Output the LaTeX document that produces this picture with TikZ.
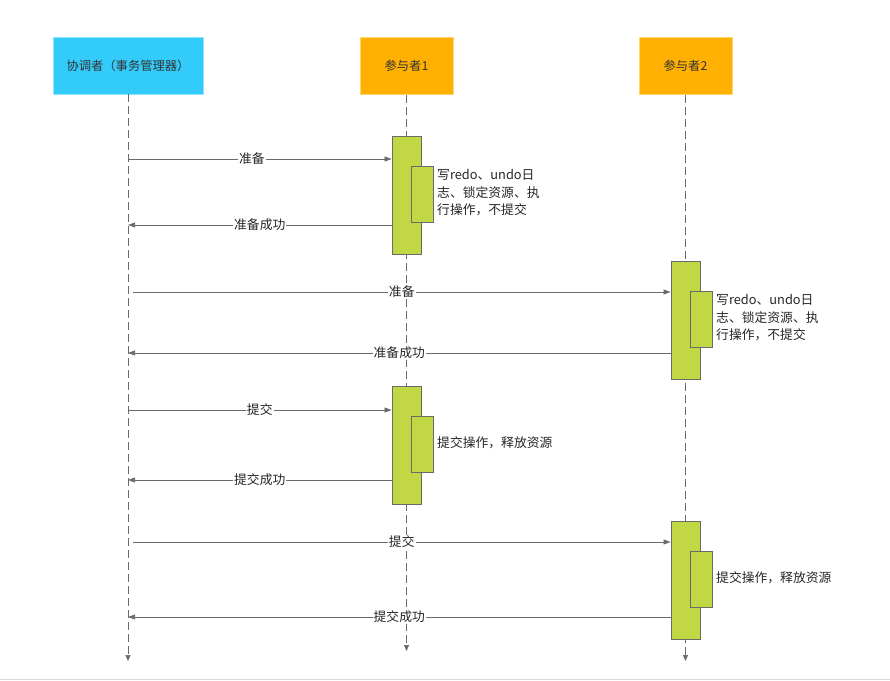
\documentclass[tikz,border=0pt]{standalone}
\usepackage{fontspec}
\newfontfamily\cjk{Noto Sans CJK SC}
\usetikzlibrary{positioning,arrows.meta}
\definecolor{hdblue}{HTML}{33CCFA}
\definecolor{hdorange}{HTML}{FFB000}
\definecolor{actgreen}{HTML}{C1D844}
\definecolor{linegray}{HTML}{6A6A6A}

\begin{document}
\begin{tikzpicture}[
          x=1pt, y=-1pt,
          head/.style={draw, line width=0.8pt, minimum height=57pt, inner sep=0pt, font=\cjk\fontsize{12.3}{14}\selectfont, text=black!80},
          act/.style={draw=linegray, line width=0.9pt, fill=actgreen, minimum width=29pt, minimum height=118pt, inner sep=0pt},
          sub/.style={draw=linegray, line width=0.9pt, fill=actgreen, minimum width=22pt, minimum height=56pt, inner sep=0pt},
          note/.style={anchor=west, align=left, inner sep=0pt, font=\cjk\fontsize{12.8}{17.5}\selectfont, text=black!85},
          life/.style={draw=linegray, line width=0.7pt, dash pattern=on 8pt off 4pt, -{Triangle[length=6pt, width=5pt]}},
          msg/.style={draw=linegray, line width=0.7pt, -{Triangle[length=7pt, width=5pt]}},
          lbl/.style={fill=white, inner sep=1pt, font=\cjk\fontsize{12.8}{14}\selectfont, text=black!85}
      ]
        \useasboundingbox (0,0) rectangle (890,680);
        \draw[black!15, line width=1pt] (0,679) -- (890,679);

        % lifeline heads
        \node[head, fill=hdblue, draw=hdblue!55!white, minimum width=150pt] (co) at (128,65.5) {协调者（事务管理器）};
        \node[head, fill=hdorange, draw=hdorange!55!white, minimum width=93pt] (p1) at (406.5,66) {参与者1};
        \node[head, fill=hdorange, draw=hdorange!55!white, minimum width=93pt] (p2) at (685.5,66) {参与者2};

        \coordinate (coend) at (128,661);
        \coordinate (p1end) at (406.5,651);
        \coordinate (p2end) at (685.5,661);
        \draw[life] (co.south) -- (coend);
        \draw[life] (p1.south) -- (p1end);
        \draw[life] (p2.south) -- (p2end);

        % activations
        \node[act] (a1) at (406.5,195) {};
        \node[sub] (s1) at (422,194) {};
        \node[act] (a2) at (685.5,320) {};
        \node[sub] (s2) at (701,319.5) {};
        \node[act] (a3) at (406.5,445) {};
        \node[sub] (s3) at (422,444) {};
        \node[act] (a4) at (685.5,580) {};
        \node[sub] (s4) at (701,579) {};

        \node[note] (n1) at (437,193) {写redo、undo日\\志、锁定资源、执\\行操作，不提交};
        \node[note] (n2) at (716,318) {写redo、undo日\\志、锁定资源、执\\行操作，不提交};
        \node[note] (n3) at (437,443) {提交操作，释放资源};
        \node[note] (n4) at (716,578) {提交操作，释放资源};

        % messages
        \draw[msg] (co |- 0,159) -- node[lbl, pos=.47] {准备} (a1.west |- 0,159);
        \draw[msg] (a1.west |- 0,225) -- node[lbl] {准备成功} (co |- 0,225);
        \draw[msg] ([xshift=5pt]co |- 0,292) -- node[lbl] {准备} (a2.west |- 0,292);
        \draw[msg] (a2.west |- 0,353) -- node[lbl] {准备成功} (co |- 0,353);
        \draw[msg] (co |- 0,410) -- node[lbl, pos=.5] {提交} (a3.west |- 0,410);
        \draw[msg] (a3.west |- 0,480) -- node[lbl] {提交成功} (co |- 0,480);
        \draw[msg] ([xshift=5pt]co |- 0,542) -- node[lbl] {提交} (a4.west |- 0,542);
        \draw[msg] (a4.west |- 0,617) -- node[lbl] {提交成功} (co |- 0,617);
      \end{tikzpicture}
\end{document}
